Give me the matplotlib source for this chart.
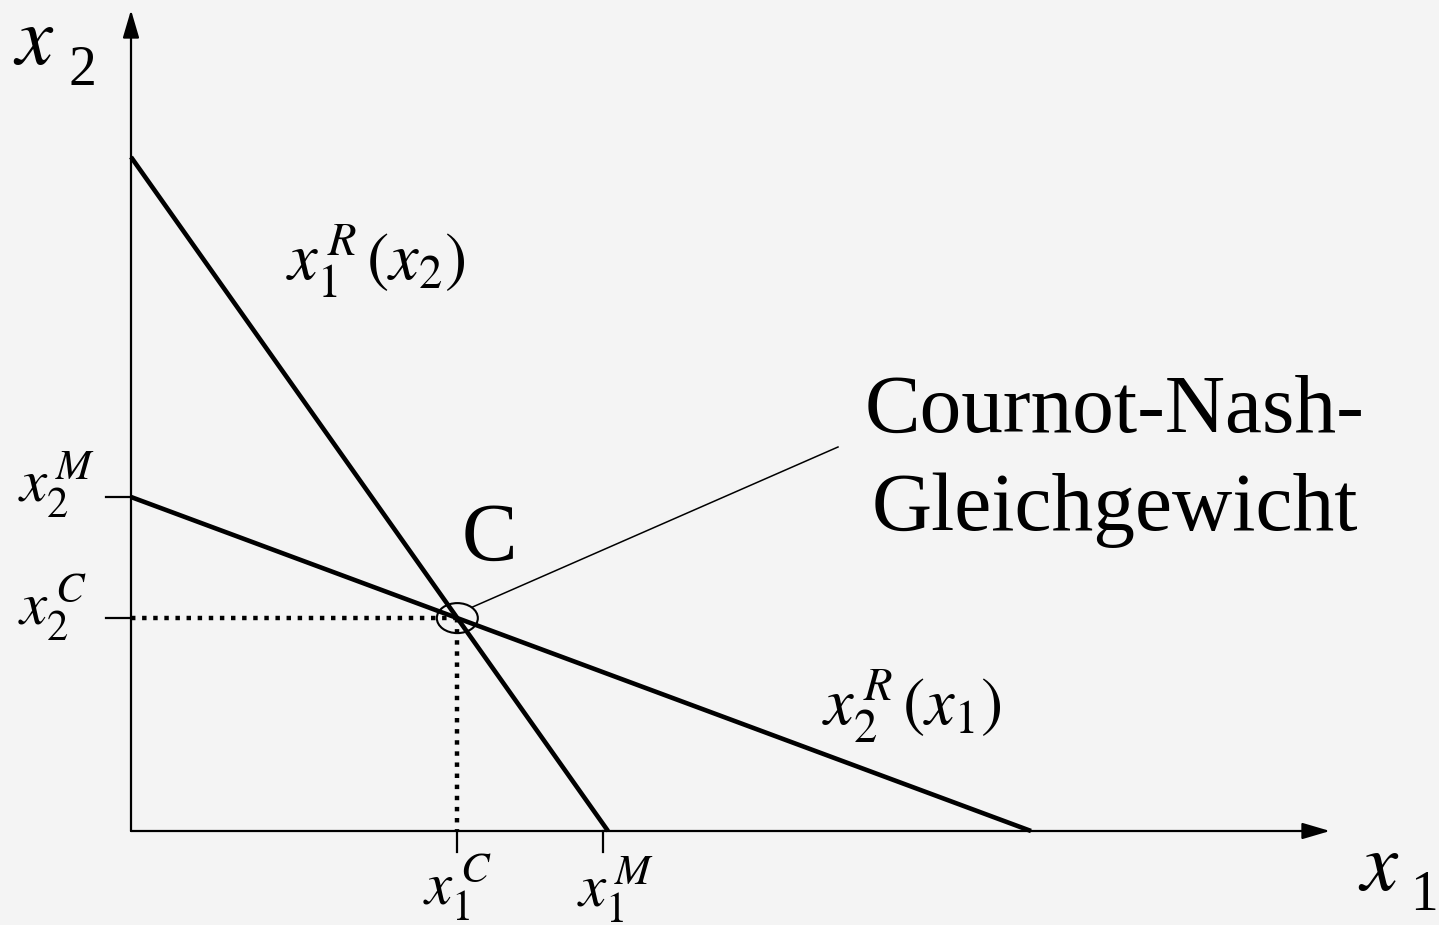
import numpy as np
import matplotlib
matplotlib.use("Agg")
import matplotlib.pyplot as plt
from matplotlib.patches import Ellipse

# Cournot duopoly: reaction functions (arbitrary units)
# x1^R(x2): intercepts on both axes
r1_x2_intercept = 6.74
r1_x1_intercept = 4.77
# x2^R(x1)
r2_x2_intercept = 3.34   # = x2^M
r2_x1_intercept = 9.00

x1_monopoly = 4.72
x2_monopoly = 3.34

x1_axis_end = 11.99
x2_axis_end = 8.21

BG = "#f4f4f4"

plt.rcParams["mathtext.fontset"] = "stix"
plt.rcParams["font.family"] = "Liberation Serif"

fig = plt.figure(figsize=(14.39, 9.25), dpi=100, facecolor=BG)
ax = fig.add_axes([0, 0, 1, 1], facecolor=BG)
ax.set_xlim(-1.31, 13.08)
ax.set_ylim(-0.94, 8.31)
ax.axis("off")

# intersection (Cournot-Nash equilibrium)
s1 = -r1_x2_intercept / r1_x1_intercept
s2 = -r2_x2_intercept / r2_x1_intercept
x1c = (r2_x2_intercept - r1_x2_intercept) / (s1 - s2)
x2c = r2_x2_intercept + s2 * x1c

# axes with arrows
arrow = dict(arrowstyle="-|>,head_length=1.7,head_width=0.5", lw=1.6, color="black",
             shrinkA=0, shrinkB=0)
ax.annotate("", xy=(x1_axis_end, 0), xytext=(0, 0), arrowprops=arrow)
ax.annotate("", xy=(0, x2_axis_end), xytext=(0, 0), arrowprops=arrow)

# reaction functions
ax.plot([0, r1_x1_intercept], [r1_x2_intercept, 0], color="black", lw=3.3, solid_capstyle="butt")
ax.plot([0, r2_x1_intercept], [r2_x2_intercept, 0], color="black", lw=3.3, solid_capstyle="butt")

# dotted guides
dots = (0, (1, 1.5))
ax.plot([0, x1c], [x2c, x2c], color="black", lw=3.2, linestyle=dots)
ax.plot([x1c, x1c], [x2c, 0], color="black", lw=3.2, linestyle=dots)

# ticks
ax.plot([x1c, x1c], [0, -0.21], color="black", lw=1.6)
ax.plot([x1_monopoly, x1_monopoly], [0, -0.21], color="black", lw=1.6)
ax.plot([-0.25, 0], [x2_monopoly, x2_monopoly], color="black", lw=1.6)
ax.plot([-0.25, 0], [x2c, x2c], color="black", lw=1.6)

# circle at C and pointer to label
ax.add_patch(Ellipse((x1c, x2c), 0.41, 0.30, fill=False, lw=1.5, color="black"))
ax.plot([x1c + 0.15, 7.07], [x2c + 0.11, 3.84], color="black", lw=1.1)

# axis names
ax.text(-1.18, 7.67, "$x$", fontsize=60, ha="left", va="baseline")
ax.text(-0.63, 7.46, "2", fontsize=40, ha="left", va="baseline")
ax.text(12.27, -0.59, "$x$", fontsize=60, ha="left", va="baseline")
ax.text(12.79, -0.79, "1", fontsize=40, ha="left", va="baseline")

# tick labels
ax.text(x1c, -0.57, "$x_1^{\\,C}$", fontsize=44, ha="center", va="center")
ax.text(4.85, -0.59, "$x_1^{\\,M}$", fontsize=44, ha="center", va="center")
ax.text(-0.74, 3.46, "$x_2^{\\,M}$", fontsize=44, ha="center", va="center")
ax.text(-0.78, 2.23, "$x_2^{\\,C}$", fontsize=44, ha="center", va="center")

# curve labels
ax.text(2.45, 5.70, "$x_1^{\\,R}\\,(x_2)$", fontsize=48, ha="center", va="center")
ax.text(7.81, 1.25, "$x_2^{\\,R}\\,(x_1)$", fontsize=48, ha="center", va="center")

ax.text(3.31, 2.71, "C", fontsize=60, ha="left", va="baseline")
ax.text(9.84, 3.99, "Cournot-Nash-", fontsize=60, ha="center", va="baseline")
ax.text(9.84, 3.01, "Gleichgewicht", fontsize=60, ha="center", va="baseline")

fig.savefig("out.png", dpi=100, facecolor=BG)
